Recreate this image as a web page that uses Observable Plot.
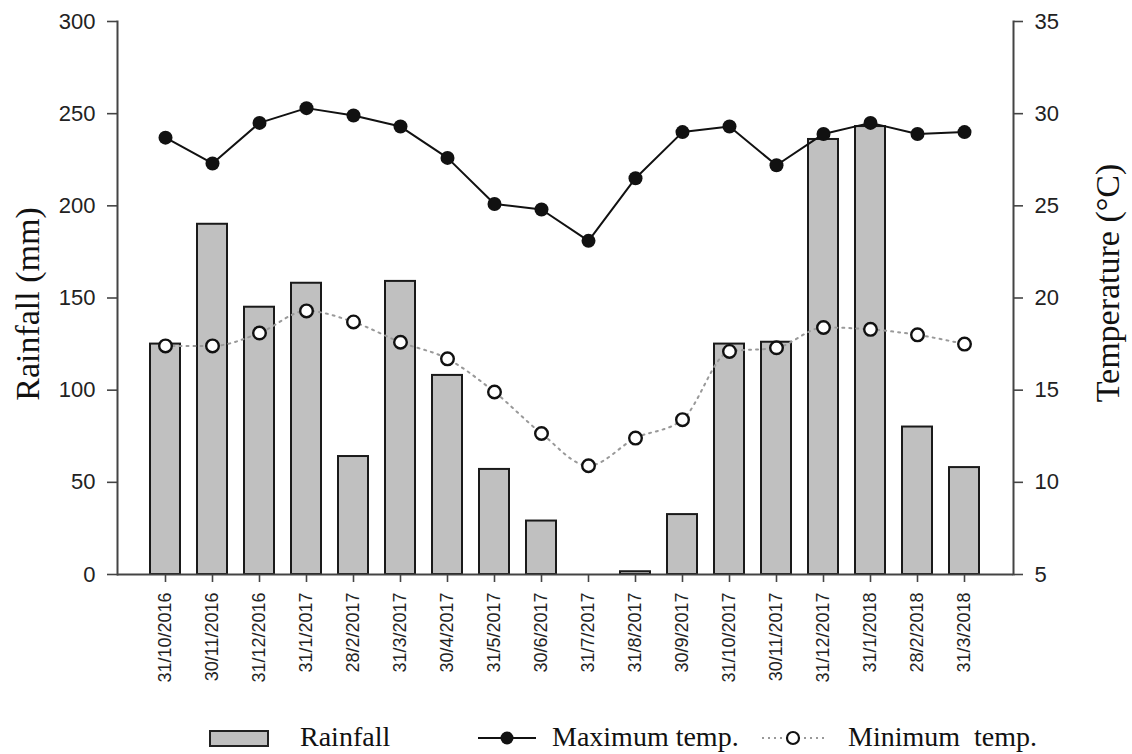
<!DOCTYPE html>
<html>
<head>
<meta charset="utf-8">
<script src="https://cdn.jsdelivr.net/npm/d3@7"></script>
<script src="https://cdn.jsdelivr.net/npm/@observablehq/plot@0.6"></script>
<style>
  html, body { margin: 0; padding: 0; background: #fff; }
  #wrap { position: relative; width: 1132px; height: 754px; overflow: hidden; }
  #chart svg { display: block; }
  .leg { position: absolute; font-family: "Liberation Serif", "Times New Roman", serif; font-size: 28px; color: #111; line-height: 1; white-space: pre; }
  .sym { position: absolute; }
</style>
</head>
<body>
<div id="wrap">
  <div id="chart"></div>
  <svg class="sym" style="left:208px; top:729px;" width="62" height="20"><rect x="2" y="2" width="58" height="15" fill="#c0c0c0" stroke="#222" stroke-width="2"/></svg>
  <span class="leg" style="left:300px; top:723px;">Rainfall</span>
  <svg class="sym" style="left:476px; top:728px;" width="62" height="20"><line x1="2" y1="10" x2="60" y2="10" stroke="#111" stroke-width="2"/><circle cx="31" cy="10" r="6.5" fill="#111"/></svg>
  <span class="leg" style="left:552px; top:723px;">Maximum temp.</span>
  <svg class="sym" style="left:760px; top:728px;" width="68" height="20"><line x1="2" y1="10" x2="66" y2="10" stroke="#999" stroke-width="2" stroke-dasharray="2,4"/><circle cx="33" cy="10" r="6" fill="#fff" stroke="#111" stroke-width="2.2"/></svg>
  <span class="leg" style="left:848px; top:723px;">Minimum  temp.</span>
</div>
<script>
const dates = ["31/10/2016","30/11/2016","31/12/2016","31/1/2017","28/2/2017","31/3/2017","30/4/2017","31/5/2017","30/6/2017","31/7/2017","31/8/2017","30/9/2017","31/10/2017","30/11/2017","31/12/2017","31/1/2018","28/2/2018","31/3/2018"];
const rainfall = [125,190,145,158,64,159,108,57,29,0,1.5,32.5,125,126,236,243,80,58];
const tmax = [28.7,27.3,29.5,30.3,29.9,29.3,27.6,25.1,24.8,23.1,26.5,29.0,29.3,27.2,28.9,29.5,28.9,29.0];
const tmin = [17.4,17.4,18.1,19.3,18.7,17.6,16.7,14.9,12.65,10.9,12.4,13.4,17.1,17.3,18.4,18.3,18.0,17.5];
const rainTicks = [0,50,100,150,200,250,300];
const tempTicks = [5,10,15,20,25,30,35];

// temperature (°C) mapped onto the rainfall axis: 5–35 °C ↔ 0–300 mm
const toRain = t => (t - 5) * 10;

const table = dates.map((d, i) => ({date: d, rain: rainfall[i], tmax: tmax[i], tmin: tmin[i]}));

const sans = "'Liberation Sans', Arial, sans-serif";
const serif = "'Liberation Serif', 'Times New Roman', serif";

const chart = Plot.plot({
  width: 1132,
  height: 706,
  marginLeft: 117,
  marginRight: 119,
  marginTop: 21,
  marginBottom: 132,
  style: {fontFamily: sans, color: "#222", background: "#fff", overflow: "visible"},
  x: {type: "band", domain: dates, paddingInner: 0.36, paddingOuter: 0.7, label: null},
  y: {domain: [0, 300], label: null},
  marks: [
    Plot.barY(table, {x: "date", y: "rain", fill: "#c0c0c0", stroke: "#1a1a1a", strokeWidth: 2}),
    Plot.ruleY([0], {stroke: "#444", strokeWidth: 2}),
    Plot.frame({anchor: "left", stroke: "#444", strokeWidth: 2}),
    Plot.frame({anchor: "right", stroke: "#444", strokeWidth: 2}),
    Plot.axisY({anchor: "left", ticks: rainTicks, tickSize: 10, tickPadding: 12, fontSize: 22, label: null, stroke: "#444", strokeWidth: 1.6, fill: "#222"}),
    Plot.axisY({anchor: "right", ticks: tempTicks.map(toRain), tickFormat: d => d / 10 + 5, tickSize: 9, tickPadding: 12, fontSize: 22, label: null, stroke: "#444", strokeWidth: 1.6, fill: "#222"}),
    Plot.axisX({tickRotate: -90, tickSize: 8, tickPadding: 10, fontSize: 18, label: null, stroke: "#444", strokeWidth: 1.6, fill: "#222"}),
    Plot.line(table, {x: "date", y: d => toRain(d.tmin), stroke: "#999", strokeWidth: 2, strokeDasharray: "2,5", curve: "monotone-x"}),
    Plot.line(table, {x: "date", y: d => toRain(d.tmax), stroke: "#111", strokeWidth: 2, curve: "linear"}),
    Plot.dot(table, {x: "date", y: d => toRain(d.tmax), r: 7, fill: "#111", stroke: "none"}),
    Plot.dot(table, {x: "date", y: d => toRain(d.tmin), r: 6.3, fill: "#fff", stroke: "#111", strokeWidth: 2.4}),
    Plot.text(["Rainfall (mm)"], {text: d => d, frameAnchor: "left", textAnchor: "middle", rotate: -90, dx: -89, dy: 6, fontFamily: serif, fontSize: 34, fill: "#111"}),
    Plot.text(["Temperature (°C)"], {text: d => d, frameAnchor: "right", textAnchor: "middle", rotate: -90, dx: 95, dy: -15, fontFamily: serif, fontSize: 34, fill: "#111"})
  ]
});
document.getElementById("chart").appendChild(chart);
</script>
</body>
</html>
